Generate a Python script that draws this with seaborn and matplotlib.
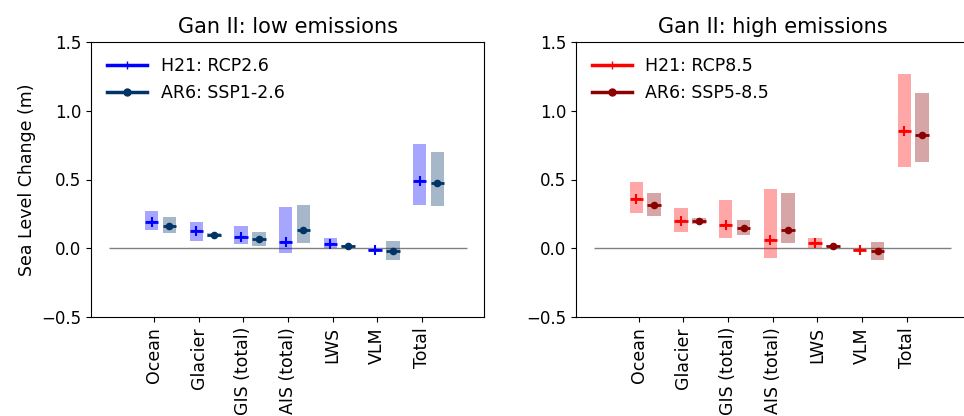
import numpy as np
import pandas as pd
import matplotlib
matplotlib.use("Agg")
import matplotlib.pyplot as plt
from matplotlib.lines import Line2D
import seaborn as sns

components = ["Ocean", "Glacier", "GIS (total)", "AIS (total)", "LWS", "VLM", "Total"]

# low emissions
h21_low_med = [0.19, 0.125, 0.083, 0.05, 0.035, -0.011, 0.488]
h21_low_lo = [0.13, 0.052, 0.03, -0.03, 0.0, -0.018, 0.316]
h21_low_hi = [0.272, 0.195, 0.163, 0.304, 0.076, -0.005, 0.759]
ar6_low_med = [0.166, 0.098, 0.067, 0.132, 0.018, -0.016, 0.476]
ar6_low_lo = [0.11, 0.082, 0.018, 0.038, 0.01, -0.083, 0.309]
ar6_low_hi = [0.226, 0.112, 0.12, 0.316, 0.028, 0.054, 0.703]

# high emissions
h21_high_med = [0.362, 0.202, 0.173, 0.062, 0.038, -0.013, 0.855]
h21_high_lo = [0.26, 0.118, 0.078, -0.069, 0.0, -0.02, 0.594]
h21_high_hi = [0.481, 0.296, 0.352, 0.434, 0.074, -0.006, 1.265]
ar6_high_med = [0.316, 0.2, 0.151, 0.134, 0.018, -0.018, 0.826]
ar6_high_lo = [0.236, 0.178, 0.1, 0.042, 0.01, -0.083, 0.63]
ar6_high_hi = [0.403, 0.222, 0.207, 0.403, 0.028, 0.049, 1.131]

plt.rcParams["font.family"] = ["DejaVu Sans"]
plt.rcParams["font.size"] = 12.5

fig = plt.figure(figsize=(9.64, 4.16), dpi=100)
W, H = 964.0, 416.0
ax_w = (484.4 - 91.3) / W
ax_h = (317.3 - 41.7) / H
ax1 = fig.add_axes([91.3 / W, (H - 317.3) / H, ax_w, ax_h])
ax2 = fig.add_axes([576.0 / W, (H - 317.3) / H, ax_w, ax_h])

xpos = np.arange(1, len(components) + 1)
bw = 0.3


def panel(ax, title, series, labels, colors, markers, sizes):
    handles = []
    for k, (med, lo, hi) in enumerate(series):
        x = xpos + (-0.05 if k == 0 else 0.35)
        lo = np.array(lo)
        hi = np.array(hi)
        ax.bar(x, hi - lo, bottom=lo, width=bw, color=colors[k], alpha=0.35,
               linewidth=0, zorder=1)
        ax.hlines(med, x - 0.15, x + 0.15, color=colors[k], lw=2, zorder=3)
        df = pd.DataFrame({"x": x, "y": med})
        sns.scatterplot(data=df, x="x", y="y", ax=ax, marker=markers[k],
                        s=sizes[k], color=colors[k],
                        linewidth=1.5 if markers[k] == "+" else 0,
                        edgecolor=colors[k], zorder=4, legend=False)
        handles.append(Line2D([0], [0], color=colors[k], lw=2.5, marker=markers[k],
                              markersize=6 if markers[k] == "+" else 5,
                              label=labels[k]))
    ax.hlines(0, 0, 8, color="gray", lw=1, zorder=0)
    ax.set_xlim(-0.4, 8.4)
    ax.set_ylim(-0.5, 1.5)
    ax.set_yticks([-0.5, 0.0, 0.5, 1.0, 1.5])
    ax.set_xticks(xpos)
    ax.set_xticklabels(components, rotation=90, fontsize=12.5)
    ax.tick_params(axis="y", labelsize=12)
    ax.set_xlabel("")
    ax.set_ylabel("")
    ax.set_title(title, fontsize=15)
    ax.legend(handles=handles, loc="upper left", frameon=False, fontsize=12.5,
              handlelength=2.3)


panel(ax1, "Gan II: low emissions",
      [(h21_low_med, h21_low_lo, h21_low_hi), (ar6_low_med, ar6_low_lo, ar6_low_hi)],
      ["H21: RCP2.6", "AR6: SSP1-2.6"], ["#0000ff", "#003366"], ["+", "o"], [60, 30])
panel(ax2, "Gan II: high emissions",
      [(h21_high_med, h21_high_lo, h21_high_hi), (ar6_high_med, ar6_high_lo, ar6_high_hi)],
      ["H21: RCP8.5", "AR6: SSP5-8.5"], ["#ff0000", "#8b0000"], ["+", "o"], [60, 30])
ax1.set_ylabel("Sea Level Change (m)", fontsize=12.5)

fig.savefig("out.png", dpi=100)
